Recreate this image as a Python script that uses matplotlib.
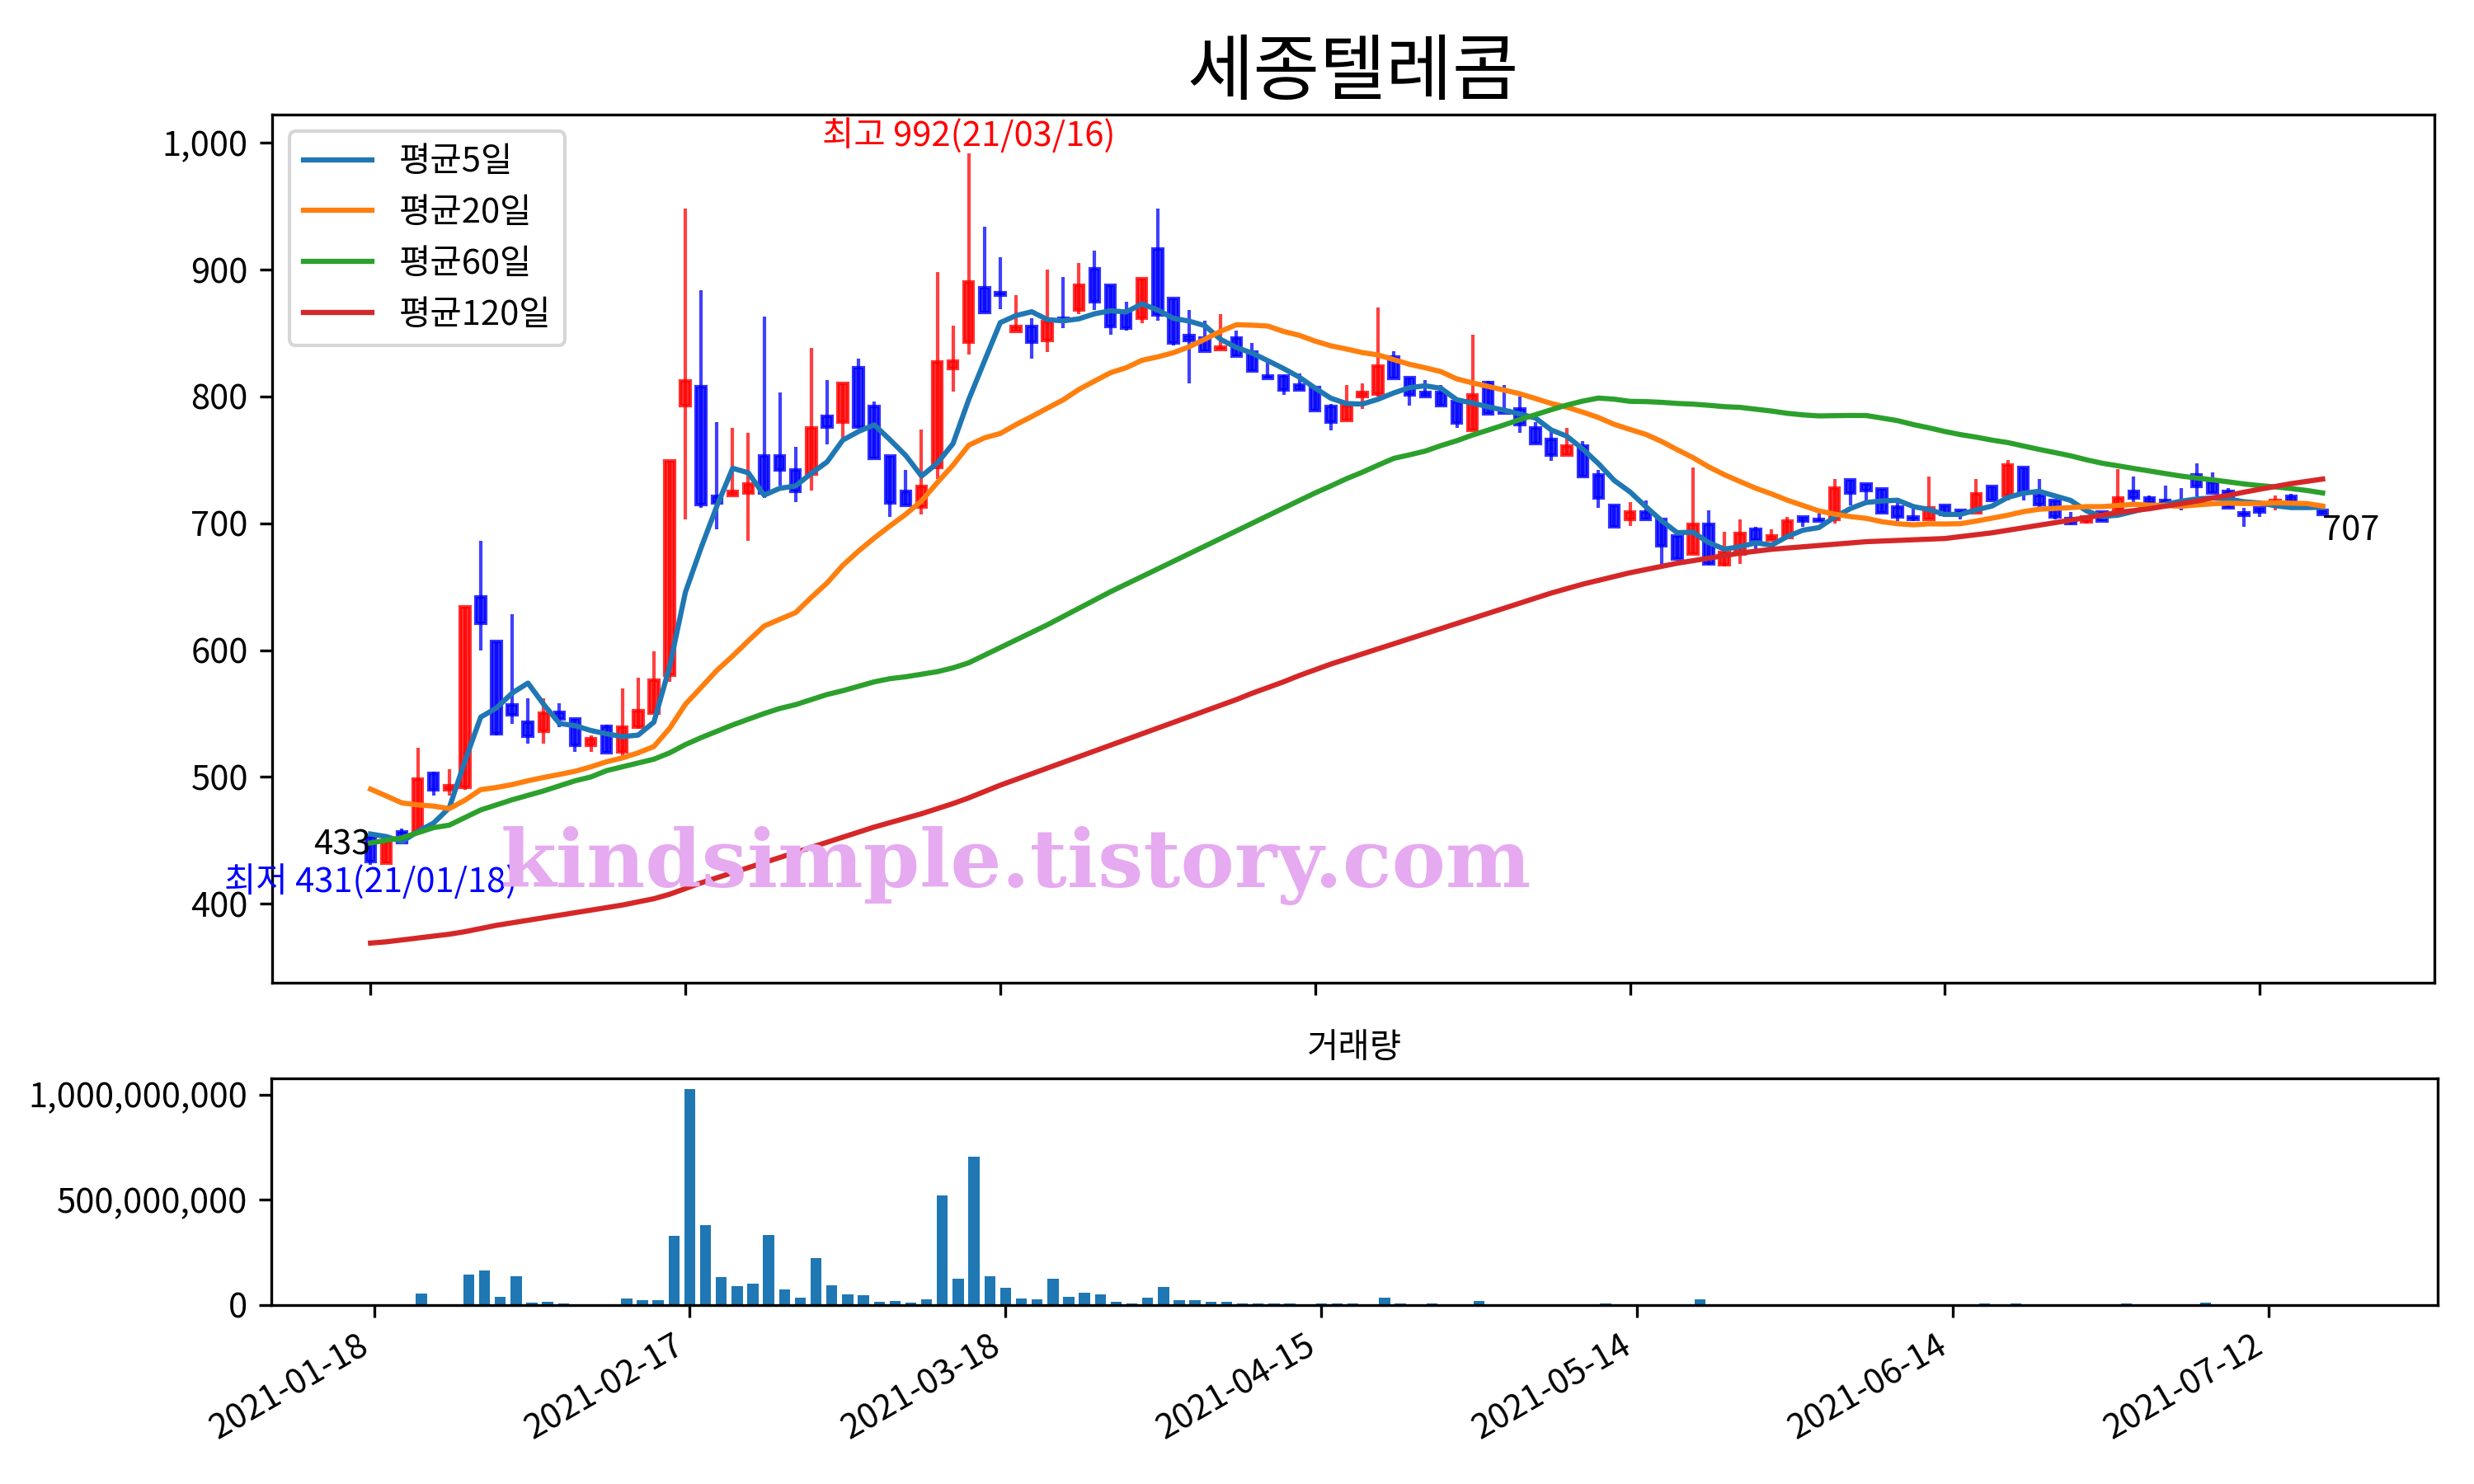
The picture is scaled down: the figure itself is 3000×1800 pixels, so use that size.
import numpy as np
import pandas as pd
import matplotlib
matplotlib.use('Agg')
from matplotlib import pyplot as plt
from matplotlib.ticker import FuncFormatter

plt.rcParams['font.family'] = ['Noto Sans CJK KR', 'DejaVu Sans']
plt.rcParams['axes.unicode_minus'] = False

stock_name = '세종텔레콤'
holidays = ['2021-02-11', '2021-02-12', '2021-03-01', '2021-05-05', '2021-05-19']

opens = [453, 432, 457, 457, 503, 490, 492, 642, 607, 557,
         543, 536, 551, 546, 525, 540, 520, 539, 550, 580,
         793, 808, 721, 722, 724, 753, 753, 742, 739, 784,
         780, 823, 792, 753, 725, 713, 744, 822, 843, 886,
         882, 851, 855, 844, 862, 868, 901, 888, 866, 862,
         916, 877, 848, 846, 837, 846, 835, 816, 816, 809,
         807, 792, 781, 800, 802, 831, 815, 803, 803, 796,
         773, 811, 789, 790, 775, 766, 754, 761, 738, 714,
         703, 709, 703, 690, 676, 699, 667, 676, 695, 687,
         689, 705, 703, 703, 734, 731, 727, 713, 705, 703,
         714, 710, 708, 729, 722, 744, 722, 718, 704, 701,
         709, 711, 725, 720, 718, 715, 738, 732, 725, 708,
         712, 716, 721, 714, 710]
highs = [455, 449, 459, 523, 504, 506, 634, 686, 607, 628,
         562, 562, 558, 546, 533, 541, 570, 578, 599, 749,
         948, 884, 780, 775, 771, 863, 803, 760, 838, 813,
         810, 830, 796, 753, 742, 774, 898, 856, 992, 934,
         910, 880, 862, 900, 894, 905, 915, 888, 875, 893,
         948, 877, 868, 860, 865, 852, 842, 828, 817, 818,
         807, 794, 809, 810, 870, 836, 815, 813, 809, 796,
         849, 812, 809, 800, 780, 773, 775, 765, 742, 714,
         717, 718, 703, 690, 744, 710, 693, 703, 697, 695,
         705, 705, 708, 735, 734, 731, 727, 716, 712, 737,
         714, 710, 735, 729, 750, 744, 735, 718, 709, 705,
         709, 743, 737, 722, 730, 728, 747, 740, 728, 712,
         712, 722, 723, 715, 710]
lows = [431, 432, 447, 457, 485, 485, 490, 600, 533, 542,
        526, 526, 539, 520, 520, 519, 515, 538, 550, 575,
        703, 712, 695, 722, 686, 720, 730, 717, 726, 762,
        767, 775, 751, 705, 714, 707, 735, 804, 833, 866,
        869, 851, 830, 835, 854, 865, 868, 849, 852, 858,
        860, 840, 810, 836, 837, 832, 820, 814, 801, 805,
        789, 773, 781, 790, 800, 814, 793, 800, 793, 775,
        773, 786, 787, 771, 763, 749, 754, 737, 712, 697,
        698, 703, 668, 672, 676, 667, 666, 668, 679, 687,
        689, 697, 702, 700, 714, 718, 708, 702, 702, 703,
        705, 703, 708, 718, 718, 718, 713, 703, 699, 700,
        702, 710, 716, 716, 714, 710, 721, 724, 712, 697,
        705, 710, 717, 711, 707]
closes = [433, 449, 448, 498, 490, 493, 634, 621, 534, 549,
          532, 550, 546, 525, 530, 519, 539, 552, 576, 749,
          812, 715, 716, 725, 731, 724, 742, 725, 775, 776,
          810, 776, 751, 716, 714, 729, 827, 828, 890, 866,
          880, 855, 843, 859, 861, 888, 875, 855, 854, 893,
          864, 842, 844, 836, 839, 832, 820, 814, 805, 805,
          789, 780, 793, 803, 824, 814, 801, 800, 793, 779,
          801, 786, 787, 778, 763, 754, 761, 737, 720, 697,
          709, 703, 682, 672, 699, 668, 677, 692, 687, 690,
          702, 702, 702, 728, 724, 726, 708, 705, 703, 712,
          707, 708, 723, 718, 746, 724, 715, 705, 700, 705,
          702, 720, 720, 716, 717, 714, 729, 724, 712, 706,
          709, 718, 717, 712, 707]
# volume in millions of shares
volumes_m = [1, 1, 1, 54, 3, 1, 145, 164, 38, 137,
             10.5, 14, 6.6, 2.6, 1, 2.6, 30, 22, 22, 330,
             1028, 381, 133, 89, 101, 334, 74, 34, 223, 93,
             50, 46, 14, 18, 10.5, 26, 519, 125, 704, 137,
             81, 30, 26, 125, 38, 58, 50, 14, 6.6, 34,
             85, 22, 22, 14, 14, 6.6, 6.6, 6.6, 6.6, 2.6,
             6.6, 6.6, 6.6, 2.6, 34, 6.6, 2.6, 6.6, 2.6, 2.6,
             18, 2.6, 2.6, 2.6, 1, 2.6, 2.6, 2.6, 6.6, 2.6,
             1, 1, 2.6, 1, 26, 2.6, 2.6, 2.6, 1, 1,
             1, 1, 1, 2.6, 1, 1, 1, 1, 1, 2.6,
             1, 1, 6.6, 1, 6.6, 1, 1, 1, 1, 1,
             1, 6.6, 1, 1, 1, 1, 10.5, 1, 1, 1,
             1, 1, 1, 1, 1]

# moving averages before a full window exists (history not shown)
ma5_head = [455, 453, 449, 457]
ma20_head = [490.4, 485, 479.5, 478, 477, 475, 481.7, 490, 491.7, 494,
             497, 499.6, 502, 504.5, 508, 512, 515, 519, 524]
ma60_head = [448, 450, 452, 456, 460, 462, 468, 474, 478, 482,
             485.5, 489, 493, 497, 500, 505, 508, 511, 514, 519,
             525.5, 531, 536, 541, 545.5, 550, 554, 557, 561, 565,
             568, 571.5, 575, 577.5, 579, 581, 583, 586, 590, 596,
             602, 608, 614, 620, 626.5, 633, 639.5, 646, 652, 658,
             664, 670, 676, 682, 688, 694, 700, 706, 712]
ma120_head = [369, 370, 371.5, 373, 374.5, 376, 378, 380.5, 383, 385,
              387, 389, 391, 393, 395, 397, 399, 401.5, 404, 407.5,
              412, 416.5, 420.5, 424.5, 428.5, 432.5, 436.5, 440.5, 444.5, 448.5,
              452.5, 456.5, 460.5, 464, 467.5, 471, 475, 479, 483.5, 488.5,
              493.5, 498, 502.5, 507, 511.5, 516, 520.5, 525, 529.5, 534,
              538.5, 543, 547.5, 552, 556.5, 561, 566, 570.5, 575, 580,
              584.5, 589, 593, 597, 601, 605, 609, 613, 617, 621,
              625, 629, 633, 637, 641, 645, 648.5, 652, 655, 658,
              661, 663.5, 666, 668.5, 670.5, 672.5, 674.5, 676.5, 678, 679.5,
              680.5, 681.5, 682.5, 683.5, 684.5, 685.5, 686, 686.5, 687, 687.5,
              688, 689.5, 691, 692.5, 694.5, 696.5, 698.5, 700.5, 702.5, 704.5,
              706.5, 708.5, 710, 711.5, 713.5, 715.5, 717.5, 720, 722]


def moving_average(values, window, head):
    ma = pd.Series(values, dtype=float).rolling(window).mean()
    ma.iloc[:len(head)] = head
    return ma.to_numpy()


dates = pd.bdate_range('2021-01-18', periods=len(closes), freq='C', holidays=holidays)
x = np.arange(len(closes))
o = np.array(opens, dtype=float)
h = np.array(highs, dtype=float)
l = np.array(lows, dtype=float)
c = np.array(closes, dtype=float)
vol = np.array(volumes_m) * 1e6

fig = plt.figure(figsize=(10, 6), dpi=300)
ax = fig.add_axes([0.110, 0.338, 0.874, 0.585])
ax_v = fig.add_axes([0.1097, 0.1207, 0.8756, 0.1526])

# candles: red = up, blue = down
colors = np.where(c >= o, 'r', 'b')
ax.vlines(x, l, h, colors=colors, linewidth=1.0, alpha=0.75, zorder=2)
ax.bar(x, c - o, bottom=o, width=0.6, color=colors, edgecolor=colors,
       linewidth=1.0, alpha=0.8, zorder=3)

ma_list = [
    ('평균5일', moving_average(c, 5, ma5_head)),
    ('평균20일', moving_average(c, 20, ma20_head)),
    ('평균60일', moving_average(c, 60, ma60_head)),
    ('평균120일', moving_average(c, 120, ma120_head)),
]
for label, ma in ma_list:
    ax.plot(x, ma, label=label, linewidth=1.5, zorder=4)

ax.legend(loc='upper left')
ax.set_title(stock_name, fontsize=21)

i_max = int(np.argmax(h))
i_min = int(np.argmin(l))
ax.text(i_max, h[i_max], '최고 {:,.0f}({})'.format(h[i_max], dates[i_max].strftime('%y/%m/%d')),
        color='red', ha='center', va='bottom', fontsize=10)
ax.text(i_min, l[i_min], '최저 {:,.0f}({})'.format(l[i_min], dates[i_min].strftime('%y/%m/%d')),
        color='blue', ha='center', va='top', fontsize=10)
ax.text(x[0], c[0], '{:,.0f}'.format(c[0]), ha='right', va='bottom', fontsize=10)
ax.text(x[-1], c[-1], '{:,.0f}'.format(c[-1]), ha='left', va='top', fontsize=10)

# watermark sits above everything
ax.text(41, 430, 'kindsimple.tistory.com', fontsize=23.5, fontweight='bold',
        family='DejaVu Serif', color='#e6aaf0', ha='center', va='center', zorder=6)

tick_pos = x[::20]
ax.set_xticks(tick_pos)
ax.set_xticklabels([])
ax.set_xlim(-6.25, 131.1)
ax.set_ylim(338, 1022.5)
ax.yaxis.set_major_formatter(FuncFormatter(lambda v, p: '{:,.0f}'.format(v)))

ax_v.bar(x, vol, width=0.7, color='C0')
ax_v.set_title('거래량', fontsize=10)
ax_v.set_xticks(tick_pos)
ax_v.set_xticklabels([d.strftime('%Y-%m-%d') for d in dates[::20]], rotation=30, ha='right')
ax_v.set_xlim(-6.5, 130.7)
ax_v.set_ylim(0, 1.077e9)
ax_v.set_yticks([0, 5e8, 1e9])
ax_v.yaxis.set_major_formatter(FuncFormatter(lambda v, p: '{:,.0f}'.format(v)))

fig.savefig('out.png', dpi=300)
